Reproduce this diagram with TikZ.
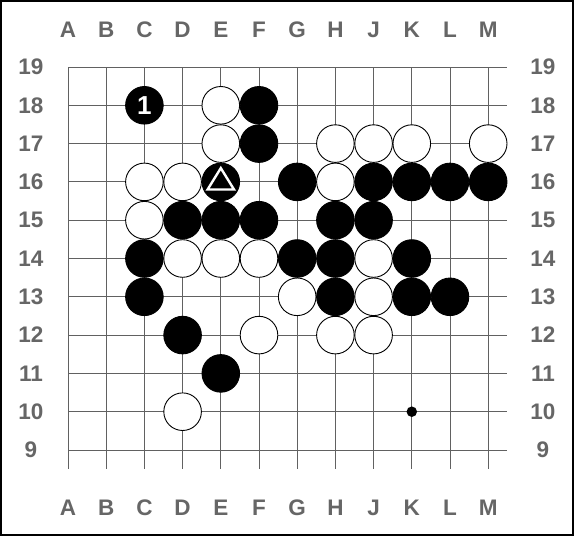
\documentclass[tikz,border=0pt]{standalone}
\usepackage{fontspec}
\setmainfont{Liberation Sans}
\begin{document}
\begin{tikzpicture}[x=1pt,y=-1pt,
  gridline/.style={draw=black!62, line width=1pt},
  lbl/.style={text=black!60, font=\fontsize{22.5}{22.5}\selectfont\bfseries, inner sep=0pt},
  stonebase/.style={circle, line width=0.9pt, minimum size=37.6pt, inner sep=0pt},
  wstone/.style={stonebase, draw=black, fill=white},
  bstone/.style={stonebase, draw=black, fill=black},
  hoshi/.style={circle, fill=black, minimum size=10.5pt, inner sep=0pt},
  numlbl/.style={text=white, font=\fontsize{26}{26}\selectfont\bfseries},
  markline/.style={draw=white, line width=2.4pt, line join=miter}]
\useasboundingbox (0,0) rectangle (574,536);
\draw[line width=2pt] (1,1) rectangle (573,535);
% grid
\foreach \c [count=\i from 0] in {A,B,C,D,E,F,G,H,J,K,L,M} {
  \pgfmathsetmacro{\xx}{68+38.2*\i}
  \draw[gridline] (\xx,67) -- (\xx,469);
  \node[lbl] (top\c) at (\xx,29.5) {\c};
  \node[lbl] (bot\c) at (\xx,508) {\c};
  \foreach \r in {19,18,...,9} {
    \pgfmathsetmacro{\yy}{67+38.3*(19-\r)}
    \coordinate (\c\r) at (\xx,\yy);
  }
}
\foreach \r in {19,18,...,9} {
  \pgfmathsetmacro{\yy}{67+38.3*(19-\r)}
  \draw[gridline] (68,\yy) -- (507,\yy);
  \node[lbl] (left\r) at (31,\yy) {\r};
  \node[lbl] (right\r) at (543,\yy) {\r};
}
% star point
\node[hoshi] (hK10) at (K10) {};
% black stones
\foreach \p in {F18,F17,E16,G16,J16,K16,L16,M16,D15,E15,F15,H15,J15,C14,G14,H14,K14,C13,H13,K13,L13,D12,E11}
  \node[bstone] (s\p) at (\p) {};
% white stones
\foreach \p in {E18,E17,H17,J17,K17,M17,C16,D16,H16,C15,D14,E14,F14,J14,G13,J13,F12,H12,J12,D10}
  \node[wstone] (s\p) at (\p) {};
% numbered stone
\node[bstone, numlbl] (sC18) at (C18) {1};
% triangle mark
\begin{scope}[shift={(E16)}]
  \draw[markline] (0,-13.8) -- (-13.2,7.6) -- (13.2,7.6) -- cycle;
\end{scope}
\end{tikzpicture}
\end{document}
